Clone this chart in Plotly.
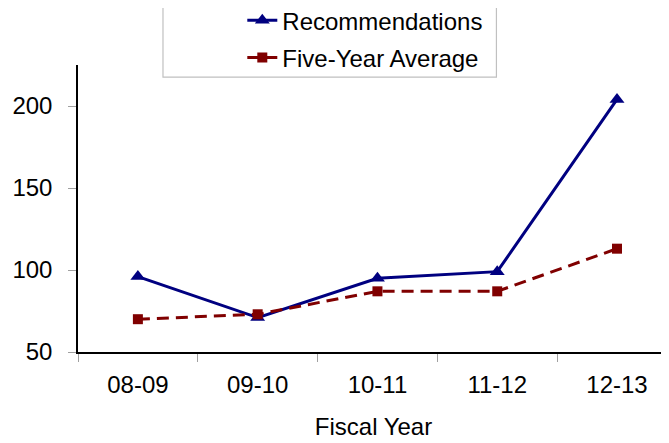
import plotly.graph_objects as go

years = ["08-09", "09-10", "10-11", "11-12", "12-13"]
recommendations = [96, 71, 95, 99, 204]
five_year_avg = [70, 73, 87, 87, 113]

FONT = "Liberation Sans, Arial, sans-serif"

fig = go.Figure()
fig.add_trace(go.Scatter(
    x=years, y=recommendations, name="Recommendations", mode="lines+markers",
    line=dict(color="#000080", width=3),
    marker=dict(symbol="triangle-up", size=13, color="#000080"),
    legendgroup="a",
))
fig.add_trace(go.Scatter(
    x=years, y=five_year_avg, name="Five-Year Average", mode="lines+markers",
    line=dict(color="#800000", width=3, dash="12px,7px"),
    marker=dict(symbol="square", size=10, color="#800000"),
    legendgroup="b",
))

fig.update_layout(
    width=661, height=435,
    margin=dict(l=70, r=0, t=57, b=91, autoexpand=False),
    paper_bgcolor="white", plot_bgcolor="white",
    font=dict(family=FONT, size=24, color="black"),
    showlegend=True,
    legend=dict(
        x=0.278, y=1.233, xanchor="left", yanchor="top",
        bgcolor="rgba(0,0,0,0)", borderwidth=0,
        font=dict(family=FONT, size=24, color="black"),
        tracegroupgap=3, traceorder="grouped",
        itemwidth=30,
    ),
    xaxis=dict(
        type="category", range=[-0.5, 4.434],
        showline=True, linecolor="black", linewidth=1.5,
        showgrid=False, zeroline=False,
        ticks="outside", tickson="boundaries", ticklen=8, tickcolor="#a0a0a0",
        tickfont=dict(family=FONT, size=24, color="black"),
        ticklabelstandoff=10,
        title=dict(text="Fiscal Year", font=dict(family=FONT, size=24, color="black"), standoff=22),
    ),
    yaxis=dict(
        range=[50, 225], tickvals=[50, 100, 150, 200],
        showline=True, linecolor="black", linewidth=1.5,
        showgrid=False, zeroline=False,
        ticks="outside", ticklen=8, tickcolor="#a0a0a0",
        tickfont=dict(family=FONT, size=24, color="black"),
        ticklabelstandoff=11,
    ),
    shapes=[dict(
        type="rect", xref="paper", yref="paper",
        x0=0.1438, x1=0.708, y0=0.958, y1=1.232,
        line=dict(color="#c0c0c0", width=1.2), fillcolor="rgba(0,0,0,0)",
        layer="above",
    )],
)

fig.write_html("out.html")
